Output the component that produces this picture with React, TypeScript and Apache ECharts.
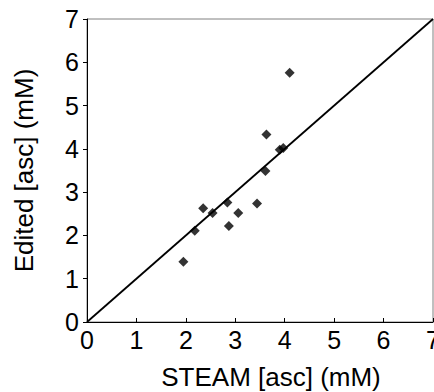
import React, { useEffect, useRef } from "react";
import * as echarts from "echarts";

const steamAsc = [1.95, 2.18, 2.35, 2.54, 2.84, 2.87, 3.06, 3.44, 3.61, 3.63, 3.90, 3.97, 4.10];
const editedAsc = [1.39, 2.11, 2.63, 2.52, 2.76, 2.22, 2.52, 2.74, 3.49, 4.33, 3.98, 4.02, 5.76];
const identityLine = [[0, 0], [7, 7]];

export default function App() {
  const ref = useRef<HTMLDivElement>(null);
  useEffect(() => {
    const chart = echarts.init(ref.current!, null, { renderer: "svg" });
    const font = "'Liberation Sans', Arial, sans-serif";
    chart.setOption({
      animation: false,
      backgroundColor: "#ffffff",
      grid: {
        left: 87,
        top: 19,
        right: 1,
        bottom: 70,
        outerBoundsMode: "none",
        containLabel: false,
        show: true,
        borderColor: "#808080",
        borderWidth: 1,
      },
      xAxis: {
        type: "value",
        min: 0,
        max: 7,
        interval: 1,
        name: "STEAM [asc] (mM)",
        nameLocation: "middle",
        nameGap: 42,
        nameTextStyle: { fontSize: 26, color: "#000", fontFamily: font, padding: [0, 0, 0, 22] },
        axisLine: { show: true, lineStyle: { color: "#000", width: 1 } },
        axisTick: { show: true, inside: true, length: 4, lineStyle: { color: "#000" } },
        axisLabel: { fontSize: 25, color: "#000", fontFamily: font, margin: 5, showMaxLabel: true },
        splitLine: { show: false },
      },
      yAxis: {
        type: "value",
        min: 0,
        max: 7,
        interval: 1,
        name: "Edited [asc] (mM)",
        nameLocation: "middle",
        nameGap: 50,
        nameTextStyle: { fontSize: 26, color: "#000", fontFamily: font },
        axisLine: { show: true, lineStyle: { color: "#000", width: 1 } },
        axisTick: { show: true, inside: false, length: 4, lineStyle: { color: "#000" } },
        axisLabel: { fontSize: 25, color: "#000", fontFamily: font, margin: 8 },
        splitLine: { show: false },
      },
      series: [
        {
          type: "line",
          data: identityLine,
          symbol: "none",
          lineStyle: { color: "#000", width: 1.8 },
          z: 2,
        },
        {
          type: "scatter",
          data: steamAsc.map((x, i) => [x, editedAsc[i]]),
          symbol: "diamond",
          symbolSize: 10,
          itemStyle: { color: "#000" },
          z: 3,
        },
      ],
    });
    return () => chart.dispose();
  }, []);
  return (
    <div
      ref={ref}
      style={{ position: "fixed", left: 0, top: 0, width: 434, height: 392 }}
    />
  );
}
